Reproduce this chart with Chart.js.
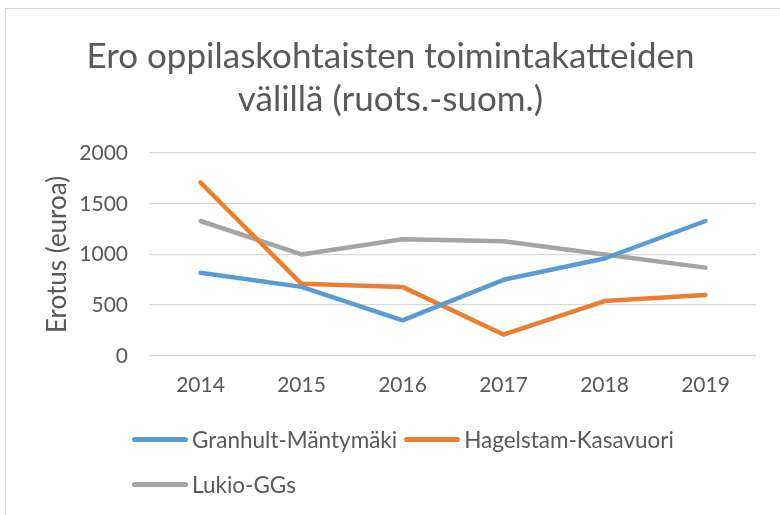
<!DOCTYPE html>
<html>
<head>
<meta charset="utf-8">
<script src="https://cdn.jsdelivr.net/npm/chart.js@4"></script>
<style>
  body { margin: 0; background: #fff; }
  #wrap { position: relative; width: 780px; height: 515px; overflow: hidden; }
  #frame { position: absolute; left: 5px; top: 8px; width: 800px; height: 540px; border: 1px solid #d9d9d9; }
  #chart { position: absolute; left: 0; top: 0; }
  #legend { position: absolute; left: 132px; top: 427px; width: 560px; display: flex; flex-wrap: wrap;
            font-family: Lato, sans-serif; font-size: 22.5px; color: #595959; }
  .item { display: flex; align-items: center; height: 24px; margin: 0 7px 21px 0; }
  .swatch { width: 56px; height: 5px; border-radius: 3px; margin-right: 4px; }
</style>
</head>
<body>
<div id="wrap">
  <div id="frame"></div>
  <canvas id="chart" width="780" height="515"></canvas>
  <div id="legend"></div>
</div>
<script>
// years on x axis
const years = ['2014', '2015', '2016', '2017', '2018', '2019'];

// differences in euros per student
const granhult = [820, 680, 350, 750, 960, 1330];
const hagelstam = [1710, 710, 680, 210, 540, 600];
const lukio = [1330, 1000, 1150, 1130, 1000, 870];

const seriesNames = ['Granhult-Mäntymäki', 'Hagelstam-Kasavuori', 'Lukio-GGs'];
const colors = ['#5B9BD5', '#ED7D31', '#A5A5A5'];

const titleLines = ['Ero oppilaskohtaisten toimintakatteiden', 'välillä (ruots.-suom.)'];
const yTitle = 'Erotus (euroa)';

function makeSet(i, values) {
  return {
    label: seriesNames[i],
    data: values,
    borderColor: colors[i],
    backgroundColor: colors[i],
    borderWidth: 4.5,
    borderCapStyle: 'round',
    borderJoinStyle: 'round',
    pointRadius: 0,
    tension: 0
  };
}

// html legend built from the datasets
const htmlLegend = {
  id: 'htmlLegend',
  afterUpdate(chart) {
    const box = document.getElementById('legend');
    box.innerHTML = '';
    chart.data.datasets.forEach(ds => {
      const item = document.createElement('div');
      item.className = 'item';
      const sw = document.createElement('span');
      sw.className = 'swatch';
      sw.style.background = ds.borderColor;
      const txt = document.createElement('span');
      txt.textContent = ds.label;
      item.appendChild(sw);
      item.appendChild(txt);
      box.appendChild(item);
    });
  }
};

const ctx = document.getElementById('chart').getContext('2d');
const chart = new Chart(ctx, {
  type: 'line',
  data: {
    labels: years,
    datasets: [makeSet(0, granhult), makeSet(1, hagelstam), makeSet(2, lukio)]
  },
  options: {
    responsive: false,
    animation: false,
    layout: { padding: { left: 25, right: 24, top: 0, bottom: 100 } },
    plugins: {
      legend: { display: false },
      tooltip: { enabled: false },
      title: {
        display: true,
        text: titleLines,
        color: '#595959',
        font: { family: 'Lato', size: 35, weight: 'normal', lineHeight: 1.23 },
        padding: { top: 35, bottom: 32 }
      }
    },
    scales: {
      x: {
        offset: true,
        grid: { display: false, drawTicks: false },
        border: { display: false },
        ticks: { color: '#595959', font: { family: 'Lato', size: 21 }, padding: 17 }
      },
      y: {
        min: 0,
        max: 2000,
        afterFit: scale => { scale.width = 125; },
        ticks: {
          stepSize: 500,
          color: '#595959',
          font: { family: 'Lato', size: 21 },
          padding: 22,
          callback: v => String(v)
        },
        grid: { color: '#d9d9d9', lineWidth: 1.3, drawTicks: false },
        border: { display: false },
        title: {
          display: true,
          text: yTitle,
          color: '#595959',
          font: { family: 'Lato', size: 26 },
          padding: { top: 17.5, bottom: 28 }
        }
      }
    }
  },
  plugins: [htmlLegend]
});
</script>
</body>
</html>
